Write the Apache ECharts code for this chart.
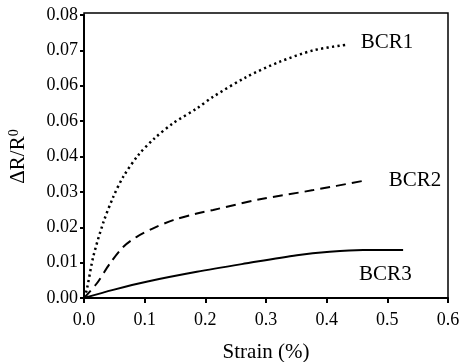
<!DOCTYPE html>
<html><head><meta charset="utf-8">
<script src="https://cdn.jsdelivr.net/npm/echarts@6/dist/echarts.min.js"></script>
<style>html,body{margin:0;padding:0;background:#fff}#c{width:467px;height:362px}</style>
</head><body><div id="c"></div>
<script>
const yTickLabels = ['0.00','0.01','0.02','0.03','0.04','0.06','0.06','0.07','0.08'];
const xTickLabels = ['0.0','0.1','0.2','0.3','0.4','0.5','0.6'];
const seriesNames = ['BCR1','BCR2','BCR3'];
const bcr1 = [[0,0],[0.0045,0.0023],[0.0153,0.0117],[0.0318,0.0213],[0.0483,0.0286],[0.0648,0.0343],[0.09,0.0405],[0.116,0.0451],[0.147,0.0494],[0.186,0.0536],[0.213,0.0569],[0.268,0.0625],[0.323,0.0668],[0.378,0.0700],[0.433,0.0716]];
const bcr2 = [[0,0],[0.021,0.0041],[0.043,0.0098],[0.065,0.0145],[0.087,0.0173],[0.114,0.0197],[0.147,0.0220],[0.186,0.0239],[0.213,0.0249],[0.29,0.0279],[0.378,0.0305],[0.466,0.0333]];
const bcr3 = [[0,0],[0.048,0.0023],[0.103,0.0046],[0.186,0.0074],[0.268,0.0098],[0.351,0.0121],[0.405,0.0131],[0.460,0.0136],[0.526,0.0136]];
</script>
<script>
const F = 'Liberation Serif, Times New Roman, serif';
const chart = echarts.init(document.getElementById('c'));
const lineStyles = [
  {type:[2.2,3.3], width:2.5},
  {type:[10,6], width:2},
  {type:'solid', width:2}
];
const endOffsets = [[6,-2],[14,0],[-52,25]];
const datas = [bcr1,bcr2,bcr3];
chart.setOption({
  animation:false,
  grid:[
    {left:84,right:19,top:15,bottom:64,outerBoundsMode:'none',containLabel:false},
    {left:84,right:19,top:13,bottom:64,outerBoundsMode:'none',containLabel:false,show:true,borderColor:'#000',borderWidth:1.5,backgroundColor:'transparent'}
  ],
  xAxis:[
    {type:'value',min:0,max:0.6,interval:0.1,gridIndex:0,
     name:'Strain (%)',nameLocation:'middle',nameGap:44,
     nameTextStyle:{fontFamily:F,fontSize:21,color:'#000'},
     axisLine:{lineStyle:{color:'#000',width:2}},
     axisTick:{length:5,lineStyle:{color:'#000',width:2}},
     axisLabel:{fontFamily:F,fontSize:18,color:'#000',margin:13,formatter:(v)=>xTickLabels[Math.round(v*10)]},
     splitLine:{show:false}},
    {type:'value',gridIndex:1,show:false,min:0,max:1}
  ],
  yAxis:[
    {type:'value',min:0,max:0.08,interval:0.01,gridIndex:0,
     name:'{a|ΔR/R}{b|0}',nameLocation:'middle',nameGap:54,nameRotate:90,
     nameTextStyle:{rich:{a:{fontFamily:F,fontSize:21,color:'#000'},b:{fontFamily:F,fontSize:14,color:'#000',verticalAlign:'top',padding:[0,0,9,0]}}},
     axisLine:{lineStyle:{color:'#000',width:2}},
     axisTick:{length:4,lineStyle:{color:'#000',width:2}},
     axisLabel:{fontFamily:F,fontSize:18,color:'#000',margin:6,formatter:(v)=>yTickLabels[Math.round(v*100)]},
     splitLine:{show:false}},
    {type:'value',gridIndex:1,show:false,min:0,max:1}
  ],
  series: datas.map((d,i)=>({
    type:'line',name:seriesNames[i],data:d,smooth:0.3,showSymbol:false,symbol:'none',
    xAxisIndex:0,yAxisIndex:0,
    lineStyle:Object.assign({color:'#000'},lineStyles[i]),
    endLabel:{show:true,formatter:seriesNames[i],fontFamily:F,fontSize:21,color:'#000',offset:endOffsets[i]}
  }))
});
</script></body></html>
